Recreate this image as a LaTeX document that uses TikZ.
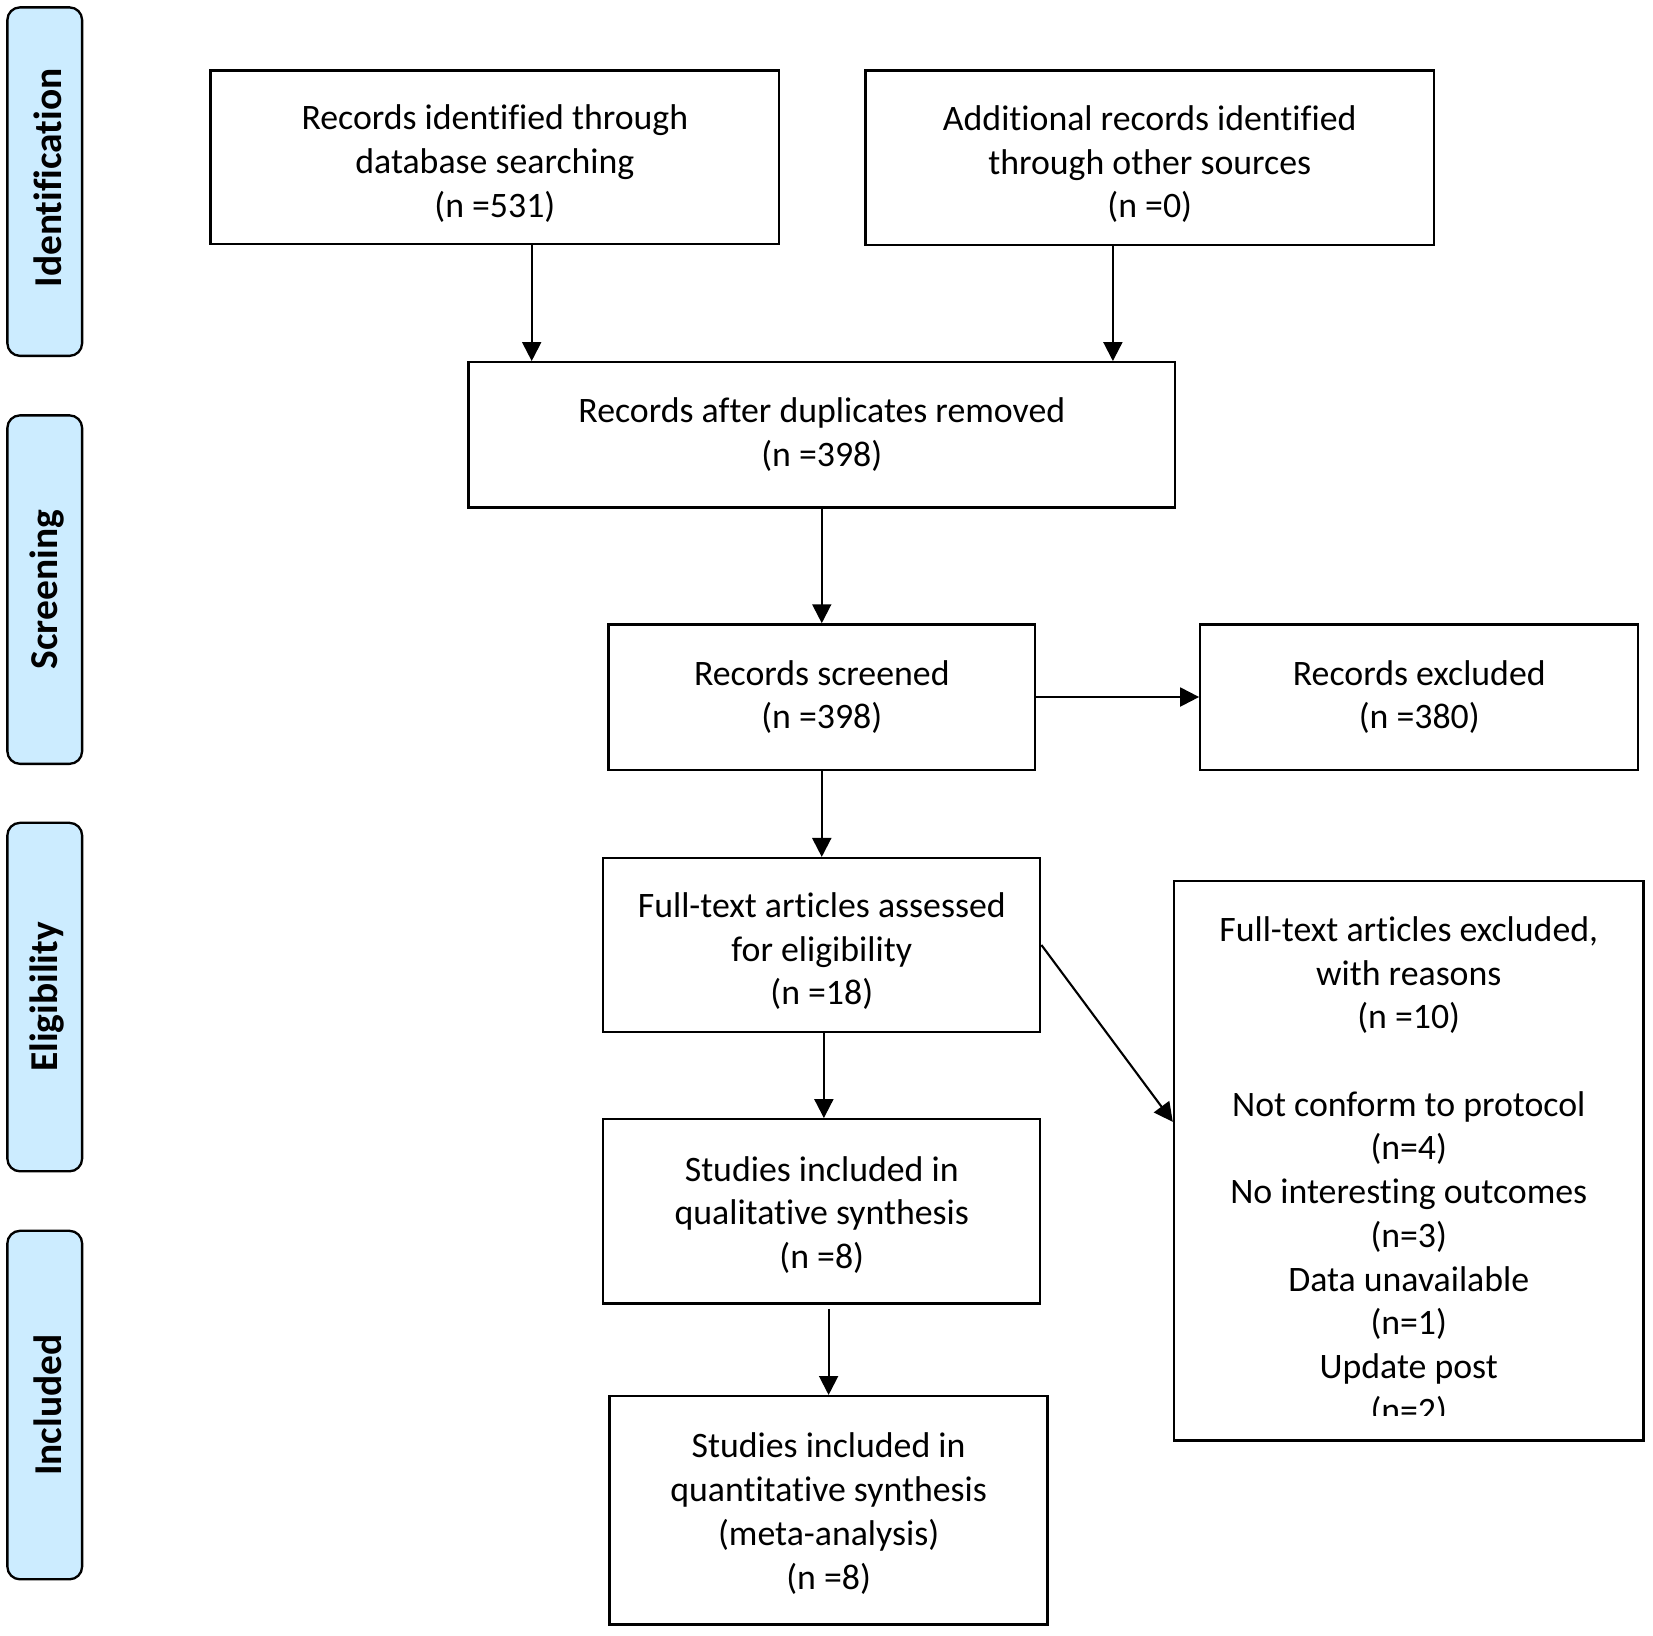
\documentclass[tikz,border=0pt]{standalone}
\usepackage{fontspec}
\setmainfont{Carlito}[Ligatures={NoCommon,NoContextual}]
\usetikzlibrary{arrows.meta}
\definecolor{stageblue}{RGB}{204,236,255}
\begin{document}
\begin{tikzpicture}[x=1pt,y=-1pt,
  box/.style={draw,line width=2.2pt,inner sep=0pt},
  txt/.style={align=center,inner sep=0pt,font=\fontsize{34}{41.5}\selectfont},
  stage/.style={draw,line width=2.2pt,fill=stageblue,rounded corners=12pt,
    minimum width=71pt,minimum height=331pt,inner sep=0pt},
  stagetext/.style={rotate=90,font=\fontsize{37.5}{40}\selectfont\bfseries},
  arr/.style={line width=2pt,-{Triangle[length=18pt,width=18pt]}}]
\useasboundingbox (0,0) rectangle (1570,1553);
% stage labels
\node[stage] (s1) at (42.5,172.5) {};
\node[stagetext] (t1) at (45,169) {Identification};
\node[stage] (s2) at (42.5,560) {};
\node[stagetext] (t2) at (45,560) {Screening};
\node[stage] (s3) at (42.5,947) {};
\node[stagetext] (t3) at (45,947) {Eligibility};
\node[stage] (s4) at (42.5,1334.5) {};
\node[stagetext] (t4) at (45,1334.5) {Included};
% boxes
\node[box,minimum width=540pt,minimum height=165pt] (b1) at (470,149.5) {};
\node[txt] (b1t) at ([yshift=-6]b1.center)
  {Records identified through\\database searching\\(n =531)};
\node[box,minimum width=540pt,minimum height=166pt] (b2) at (1092,150) {};
\node[txt] (b2t) at ([yshift=-6]b2.center)
  {Additional records identified\\through other sources\\(n =0)};
\node[box,minimum width=671pt,minimum height=138pt] (b3) at (780.5,413) {};
\node[txt] (b3t) at (b3.center) {Records after duplicates removed\\(n =398)};
\node[box,minimum width=405pt,minimum height=138pt] (b4) at (780.5,662) {};
\node[txt] (b4t) at (b4.center) {Records screened\\(n =398)};
\node[box,minimum width=416pt,minimum height=138pt] (b5) at (1348,662) {};
\node[txt] (b5t) at (b5.center) {Records excluded\\(n =380)};
\node[box,minimum width=415pt,minimum height=165pt] (b6) at (780.5,897.5) {};
\node[txt] (b6t) at ([yshift=-6]b6.center)
  {Full-text articles assessed\\for eligibility\\(n =18)};
\node[box,minimum width=446pt,minimum height=531pt] (b7) at (1338,1102.5) {};
\begin{scope}
\clip (1117,839) rectangle (1559,1344);
\node[txt] (b7t) at (1338,1113)
  {Full-text articles excluded,\\with reasons\\(n =10)\\[41.5pt]Not conform to protocol\\(n=4)\\No interesting outcomes\\(n=3)\\Data unavailable\\(n=1)\\Update post\\(n=2)};
\end{scope}
\node[box,minimum width=415pt,minimum height=175pt] (b8) at (780.5,1150.5) {};
\node[txt] (b8t) at ([yshift=-3.5]b8.center)
  {Studies included in\\qualitative synthesis\\(n =8)};
\node[box,minimum width=416pt,minimum height=217pt] (b9) at (787,1434.5) {};
\node[txt] (b9t) at ([yshift=-3]b9.center)
  {Studies included in\\quantitative synthesis\\(meta-analysis)\\(n =8)};
% arrows
\draw[arr] ([xshift=35]b1.south) -- ([xshift=35]b1.south |- b3.north);
\draw[arr] ([xshift=-35]b2.south) -- ([xshift=-35]b2.south |- b3.north);
\draw[arr] (b3.south) -- (b4.north);
\draw[arr] (b4.east) -- (b5.west);
\draw[arr] (b4.south) -- (b6.north);
\draw[arr] ([xshift=2]b6.south) -- ([xshift=2]b6.south |- b8.north);
\draw[arr] (b6.east) -- ([yshift=37]b7.west);
\draw[arr] ([xshift=6.5,yshift=-4]b8.south) -- (b9.north);
\end{tikzpicture}
\end{document}
